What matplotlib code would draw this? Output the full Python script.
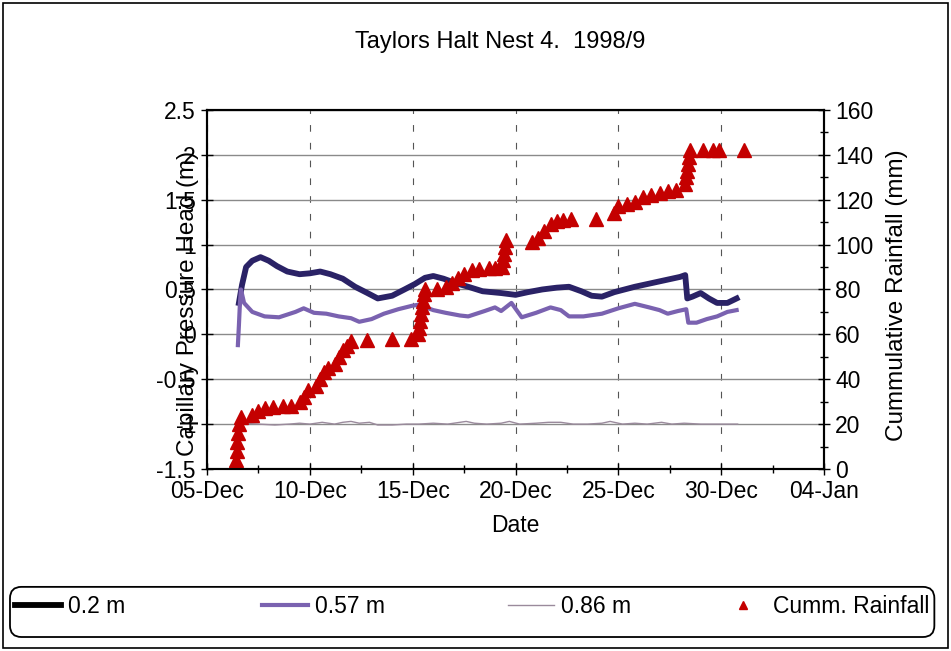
import numpy as np
import matplotlib
matplotlib.use('Agg')
import matplotlib.pyplot as plt
import matplotlib.dates as mdates
from matplotlib.patches import Rectangle, FancyBboxPatch
from matplotlib.ticker import MultipleLocator, FixedLocator
from datetime import datetime

plt.rcParams['font.family'] = ['Liberation Sans', 'DejaVu Sans']

# Tage im Dezember (Dezimaltage)
day_02 = [6.55, 6.7, 6.9, 7.2, 7.6, 8.0, 8.4, 8.9, 9.5, 10.0, 10.5, 11.0, 11.6, 12.2,
          12.8, 13.3, 14.0, 14.6, 15.1, 15.6, 16.0, 16.5, 17.1, 17.7, 18.4, 19.3,
          20.0, 20.6, 21.3, 22.0, 22.6, 23.2, 23.7, 24.2, 24.8, 25.3, 25.8, 26.4,
          27.0, 27.6, 28.0, 28.25, 28.35, 28.6, 29.0, 29.4, 29.8, 30.3, 30.75]
head_02 = [0.35, 0.55, 0.75, 0.82, 0.86, 0.82, 0.76, 0.70, 0.67, 0.68, 0.70, 0.67, 0.62, 0.53,
           0.46, 0.40, 0.43, 0.50, 0.56, 0.63, 0.65, 0.62, 0.57, 0.53, 0.48, 0.46,
           0.44, 0.47, 0.50, 0.52, 0.53, 0.48, 0.43, 0.42, 0.47, 0.50, 0.53, 0.56,
           0.59, 0.62, 0.64, 0.66, 0.40, 0.42, 0.46, 0.40, 0.35, 0.35, 0.40]

day_057 = [6.5, 6.55, 6.6, 6.65, 6.8, 7.2, 7.8, 8.5, 9.3, 9.7, 10.2, 10.8, 11.4, 12.0,
           12.4, 13.0, 13.6, 14.3, 15.0, 15.3, 16.0, 16.6, 17.3, 17.7, 18.5, 19.0,
           19.3, 19.8, 20.3, 21.0, 21.7, 22.2, 22.6, 23.3, 24.2, 25.0, 25.8, 26.5,
           27.0, 27.4, 27.9, 28.3, 28.4, 28.8, 29.3, 29.8, 30.3, 30.75]
head_057 = [-0.12, 0.10, 0.35, 0.50, 0.35, 0.25, 0.20, 0.19, 0.25, 0.29, 0.24, 0.23, 0.20, 0.18,
            0.14, 0.17, 0.23, 0.28, 0.32, 0.33, 0.27, 0.24, 0.21, 0.20, 0.26, 0.30,
            0.26, 0.35, 0.19, 0.24, 0.30, 0.27, 0.20, 0.20, 0.23, 0.29, 0.34, 0.30,
            0.27, 0.23, 0.26, 0.28, 0.13, 0.13, 0.17, 0.20, 0.25, 0.27]

day_086 = [6.7, 7.5, 8.3, 9.0, 9.5, 10.0, 10.6, 11.2, 11.6, 12.0, 12.4, 12.9, 13.3, 14.0,
           14.7, 15.3, 16.0, 16.7, 17.3, 17.6, 18.0, 18.6, 19.3, 19.7, 20.2, 21.0,
           21.6, 22.2, 22.8, 23.5, 24.2, 24.6, 25.2, 25.8, 26.4, 27.1, 27.6, 28.2,
           29.0, 29.8, 30.8]
head_086 = [-0.99, -1.00, -1.01, -1.00, -0.99, -1.00, -0.98, -1.00, -0.98, -0.97, -0.99, -0.98, -1.01, -1.01,
            -1.00, -1.00, -0.99, -1.00, -0.98, -0.97, -0.99, -1.00, -0.99, -0.97, -1.00, -0.99,
            -0.98, -0.98, -1.00, -1.00, -0.99, -0.97, -1.00, -0.99, -1.00, -0.98, -1.00, -0.99,
            -1.00, -1.00, -1.00]

day_rain = [6.4, 6.4, 6.45, 6.45, 6.5, 6.55, 6.65, 7.2, 7.5, 7.8, 8.2, 8.7, 9.1, 9.5, 9.7, 9.9,
            10.3, 10.5, 10.7, 10.9, 11.2, 11.4, 11.6, 11.8, 12.0, 12.8, 14.0, 14.9,
            15.25, 15.3, 15.35, 15.4, 15.45, 15.5, 15.55, 15.6, 16.2,
            16.6, 16.9, 17.2, 17.5, 17.9, 18.2, 18.7, 19.0,
            19.35, 19.4, 19.45, 19.5, 19.55, 20.8, 21.1, 21.4, 21.7, 22.0, 22.3, 22.7, 23.9,
            24.8, 25.0, 25.4, 25.8, 26.2, 26.6, 27.0, 27.4, 27.8,
            28.25, 28.3, 28.35, 28.4, 28.45, 28.5, 29.1, 29.6, 29.9, 31.1]
rain_mm = [0, 4, 8, 12, 16, 20, 23, 24, 26, 27, 27.5, 28, 28, 30, 32, 35,
           37, 40, 43, 45, 47, 50, 53, 55, 57, 57.5, 58, 58,
           60, 63, 66, 69, 72, 75, 78, 80, 80,
           81, 83, 85, 87, 88.5, 89, 89.5, 89.5,
           90, 93, 96, 99, 102, 101, 103, 106, 109, 110.5, 111, 111.5, 111.5,
           114, 117, 118, 119, 121, 122, 123, 124, 124.5,
           127, 130, 133, 136, 139, 142, 142, 142, 142, 142]

labels = ['0.2 m', '0.57 m', '0.86 m', 'Cumm. Rainfall']

# Umrechnung Dezembertag -> Datum
t0 = mdates.date2num(datetime(1998, 11, 30))

fig = plt.figure(figsize=(9.51, 6.51), dpi=100)
ax = fig.add_axes([0.2177, 0.2796, 0.6488, 0.5515])
ax2 = ax.twinx()

l1, = ax.plot(t0 + np.array(day_02), head_02, color='#2a2266', lw=4.2)
l2, = ax.plot(t0 + np.array(day_057), head_057, color='#7a62b0', lw=3.0)
l3, = ax.plot(t0 + np.array(day_086), head_086, color='#9a8a9c', lw=1.0)
l4, = ax2.plot(t0 + np.array(day_rain), rain_mm, ls='none', marker='^', ms=9.5,
               color='#c40000')

ax.set_xlim(t0 + 5, t0 + 35)
ax.set_ylim(-1.5, 2.5)
ax2.set_ylim(0, 160)

ax.xaxis.set_major_locator(FixedLocator(t0 + np.arange(5, 36, 5)))
ax.xaxis.set_minor_locator(FixedLocator(t0 + np.arange(7.5, 35, 5)))
ax.xaxis.set_major_formatter(mdates.DateFormatter('%d-%b'))
ax.yaxis.set_major_locator(MultipleLocator(0.5))
ax.set_yticklabels([f'{v:g}' for v in ax.get_yticks()])
ax2.yaxis.set_major_locator(MultipleLocator(20))
ax2.yaxis.set_minor_locator(MultipleLocator(10))

ax.grid(axis='y', color='#8a8a8a', lw=1.0)
ax.grid(axis='x', color='#555555', lw=0.8, ls=(0, (6, 10)))

ax.tick_params(axis='both', which='both', direction='inout', labelsize=16.5)
ax.tick_params(which='major', length=9, width=1)
ax.tick_params(which='minor', length=6, width=1)
ax2.tick_params(axis='y', which='both', direction='inout', labelsize=16.5)
ax2.tick_params(which='major', length=9, width=1)
ax2.tick_params(which='minor', length=6, width=1)
for a in (ax, ax2):
    for s in a.spines.values():
        s.set_linewidth(1.5)

ax.set_xlabel('Date', fontsize=16.5, labelpad=8)
ax.set_ylabel('Capillary Pressure Head (m)', fontsize=17.5)
ax.yaxis.set_label_coords(-0.013, 0.462)
ax2.set_ylabel('Cummulative Rainfall (mm)', fontsize=17.5)
ax2.yaxis.set_label_coords(1.10, 0.485)
fig.text(0.526, 0.935, 'Taylors Halt Nest 4.  1998/9', ha='center', va='center', fontsize=17)

# Legende: Rahmen mit runden Ecken, Einträge einzeln platziert
frame = FancyBboxPatch((0.0105, 0.0215), 0.972, 0.077, transform=fig.transFigure,
                       boxstyle='round,pad=0,rounding_size=0.012', mutation_aspect=951 / 651,
                       fill=False, lw=1.3, ec='black')
fig.patches.append(frame)
leg_x = [0.0158, 0.2755, 0.534, 0.757]
leg_handles = [l1, l2, l3, l4]
for i, (h, lbl, x) in enumerate(zip(leg_handles, labels, leg_x)):
    lg = fig.legend([h], [lbl], loc='center left', bbox_to_anchor=(x, 0.069),
                    frameon=False, fontsize=16.5, handlelength=2.0, handletextpad=0.3,
                    borderpad=0, borderaxespad=0, markerscale=0.6)
    if i == 0:
        lg.legend_handles[0].set_color('black')

fig.patches.append(Rectangle((0.003, 0.004), 0.994, 0.992, transform=fig.transFigure,
                             fill=False, lw=1.2, color='black'))

fig.savefig('out.png', dpi=100)
